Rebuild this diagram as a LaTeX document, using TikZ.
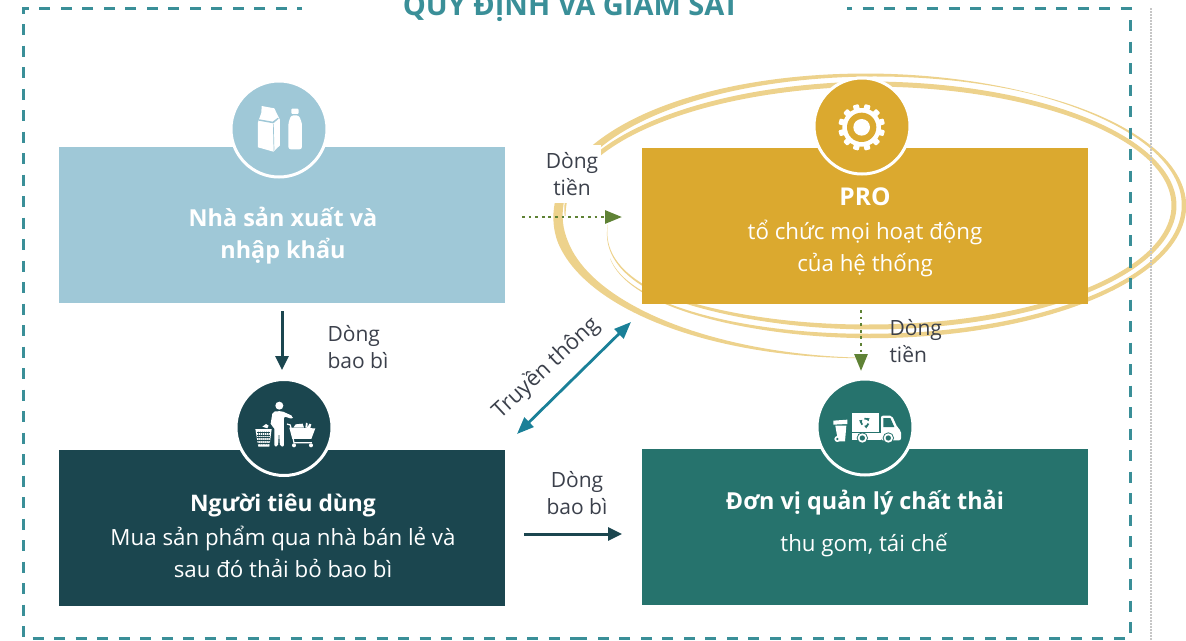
\documentclass[tikz,border=0pt]{standalone}
\usepackage{fontspec}
\usepackage{color}
\setmainfont{Open Sans}
\usetikzlibrary{arrows.meta}
\definecolor{framecol}{HTML}{3A8F98}
\definecolor{makercol}{HTML}{9FC8D7}
\definecolor{procol}{HTML}{DBA92F}
\definecolor{usercol}{HTML}{1B464F}
\definecolor{wastecol}{HTML}{26736D}
\definecolor{ringcol}{HTML}{EDD28C}
\definecolor{moneycol}{HTML}{5F8235}
\definecolor{mediacol}{HTML}{1A8098}
\definecolor{inkcol}{HTML}{3B404B}
\tikzset{
  box/.style={rectangle,inner sep=0pt,minimum width=446pt,minimum height=156pt},
  badge/.style={circle,draw=white,line width=3pt,inner sep=0pt,minimum size=96pt},
  boxtext/.style={text=white,align=center,font=\fontsize{22.3}{32}\selectfont},
  flowtext/.style={text=inkcol,font=\fontsize{21}{27}\selectfont},
  packflow/.style={draw=usercol,line width=3pt,-{Triangle[length=14pt,width=13pt]}},
  moneyflow/.style={draw=moneycol,line width=2.8pt,dash pattern=on 2.8pt off 3.8pt,-{Triangle[length=17pt,width=13pt]}},
  ringpart/.style={fill=ringcol,draw=none},
  frameline/.style={draw=framecol,line width=3pt,dash pattern=on 11pt off 10.5pt,dash phase=6pt}
}
\begin{document}
\begin{tikzpicture}[x=1pt,y=-1pt,
  declare function={
    wouter(\t)=(\t<170)?(0.3+(\t-90)*0.121):((\t<270)?(10-(\t-170)*0.07):((\t<300)?(3-(\t-270)*0.08):((\t<360)?(0.6+(\t-300)*0.065):((\t<450)?4.5:(4.5-(\t-450)*0.065)))));
    aouter(\t)=(\t<270)?(311.5+max(0,\t-180)/30):((\t<470)?314.5:(314.5-0.0145*(\t-470)*(\t-470)));
    bouter(\t)=(\t<180)?141:((\t<270)?(141-(\t-180)*0.1167):130.5);
    couter(\t)=(\t<180)?217:((\t<270)?(217-(\t-180)*0.1278):205.5);
    xouter(\t,\s)=869.5+(aouter(\t)+\s*wouter(\t)/2)*cos(\t);
    youter(\t,\s)=couter(\t)+(bouter(\t)+\s*wouter(\t)/2)*sin(\t);
    winner(\t)=(\t<200)?(1+(\t-178)*0.18):((\t<450)?5:(5-(\t-450)*0.06));
    ainner(\t)=304.5-max(0,\t-495)*1.1;
    cinner(\t)=205.5+max(0,270-\t)/15;
    xinner(\t,\s)=869.5+(ainner(\t)+\s*winner(\t)/2)*cos(\t);
    yinner(\t,\s)=cinner(\t)+(121.5+\s*winner(\t)/2)*sin(\t);
  }]
\useasboundingbox (0,0) rectangle (1186,640);

% rings round the PRO box
\fill[ringpart] plot[domain=90:516,samples=220,variable=\t] ({xouter(\t,1)},{youter(\t,1)})
  -- plot[domain=516:90,samples=220,variable=\t] ({xouter(\t,-1)},{youter(\t,-1)}) -- cycle;
\fill[ringpart] plot[domain=178:531,samples=200,variable=\t] ({xinner(\t,1)},{yinner(\t,1)})
  -- plot[domain=531:178,samples=200,variable=\t] ({xinner(\t,-1)},{yinner(\t,-1)}) -- cycle;

% frame
\draw[frameline] (302,8) -- (23,8) -- (23,638) -- (577,638);
\draw[frameline] (847,8) -- (1130,8) -- (1130,638) -- (577,638);
\draw[gray!45,line width=1.5pt,dash pattern=on 1.5pt off 1.5pt] (1151,8) -- (1151,640);
\node[text=framecol,anchor=base,font=\fontsize{29}{32}\selectfont\bfseries] (title) at (571,15) {QUY ĐỊNH VÀ GIÁM SÁT};

% boxes
\node[box,fill=makercol] (maker) at (282,225) {};
\node[box,fill=procol] (pro) at (865,226) {};
\node[box,fill=usercol] (user) at (282,528) {};
\node[box,fill=wastecol] (waste) at (865,527) {};
\node[badge,fill=makercol] (makerbadge) at (279,129) {};
\node[badge,fill=procol] (probadge) at (862,126) {};
\node[badge,fill=usercol] (userbadge) at (284,427.5) {};
\node[badge,fill=wastecol] (wastebadge) at (865,427) {};

\node[boxtext,font=\fontsize{23.4}{32}\selectfont\bfseries] (makertext) at (283,236) {Nhà sản xuất và\\nhập khẩu};
\node[boxtext] (protext) at (865,232) {{\fontsize{24.5}{32}\selectfont\bfseries PRO}\\[2pt]tổ chức mọi hoạt động\\của hệ thống};
\node[boxtext] (usertext) at (283,536) {{\fontsize{22.8}{32}\selectfont\bfseries Người tiêu dùng}\\[2pt]Mua sản phẩm qua nhà bán lẻ và\\sau đó thải bỏ bao bì};
\node[boxtext,font=\fontsize{23.4}{32}\selectfont\bfseries] (wastetitle) at (865,503) {Đơn vị quản lý chất thải};
\node[boxtext] (wastetext) at (864,545) {thu gom, tái chế};

% flows
\coordinate (a1) at (282,311);
\coordinate (a2) at (282,370);
\coordinate (b1) at (524,534);
\coordinate (b2) at (622,534);
\coordinate (c1) at (522,217);
\coordinate (c2) at (622,217);
\coordinate (d1) at (861,310);
\coordinate (d2) at (861,371);
\coordinate (e1) at (517,434);
\coordinate (e2) at (631,322);
\node[flowtext,fill=white,align=center,inner sep=0pt,minimum width=58pt,minimum height=58pt] (moneyin) at (572,174) {Dòng\\tiền};
\draw[packflow] (a1) -- (a2);
\draw[packflow] (b1) -- (b2);
\draw[moneyflow] (c1) -- (c2);
\draw[moneyflow] (d1) -- (d2);
\draw[draw=mediacol,line width=2.8pt,{Triangle[length=17pt,width=13pt]}-{Triangle[length=17pt,width=13pt]}] (e1) -- (e2);
\node[flowtext,align=left,anchor=west] (packdown) at (324,347) {Dòng\\bao bì};
\node[flowtext,align=left,anchor=west] (moneydown) at (886,341) {Dòng\\tiền};
\node[flowtext,align=center] (packright) at (577,493) {Dòng\\bao bì};
\node[flowtext,rotate=43,font=\fontsize{22}{27}\selectfont] (media) at (546,368) {Truyền thông};

% carton and bottle
\begin{scope}[shift={(220,70)},x=0.3333pt,y=-0.3333pt]
\fill[white] (114,157) -- (124,128) -- (125,108) -- (163,115) -- (180,150) -- (180,226) -- (160,245) -- (114,232) -- cycle;
\fill[makercol] (116,152) -- (160,160) -- (176,146) -- (174,143) -- (158,155) -- (118,148) -- cycle;
\fill[makercol] (161,162) -- (163,238) -- (161,243) -- (159,162) -- cycle;
\fill[white,rounded corners=1pt] (214,116) rectangle (236,132);
\fill[white,rounded corners=2.5pt] (205,238) -- (205,160) -- (213,136) -- (237,136) -- (246,160) -- (246,238) -- cycle;
\end{scope}

% gear
\begin{scope}[shift={(810,70)},x=0.3333pt,y=-0.3333pt]
\foreach \a in {15,45,...,345}
  \fill[white,rotate around={\a:(155,172)},rounded corners=1pt] (146,102) rectangle (164,125);
\fill[white] (155,172) circle (58);
\fill[procol] (155,172) circle (44);
\fill[white] (155,172) circle (25);
\end{scope}

% person, basket and cart
\begin{scope}[shift={(230,375)},x=0.3333pt,y=-0.3333pt]
\fill[white] (148,92) circle (12);
\fill[white,rounded corners=2pt] (128,110) -- (155,108) -- (190,124) -- (187,132) -- (162,124) -- (162,215) -- (150,215) -- (147,168) -- (144,215) -- (133,215) -- (133,155) -- (121,152) -- cycle;
\fill[white] (76,162) -- (125,162) -- (118,215) -- (85,215) -- cycle;
\fill[white] (97,155) -- (108,147) -- (116,152) -- (112,160) -- cycle;
\foreach \x in {86,92,98,104,110,116}
  \draw[usercol,line width=0.5pt] (\x,170) -- (\x-1+0.02*\x,210);
\foreach \y in {172,180,188,196,204}
  \draw[usercol,line width=0.5pt] (82,\y) -- (120,\y);
\draw[white,line width=1.2pt] (171,147) -- (181,150) -- (192,203) -- (246,203);
\fill[white] (178,158) -- (256,160) -- (244,192) -- (187,192) -- cycle;
\fill[white] (190,158) -- (197,148) -- (218,146) -- (222,158) -- cycle;
\fill[white] (226,158) -- (228,143) -- (233,145) -- (232,158) -- (238,146) -- (244,148) -- (241,159) -- cycle;
\fill[white] (192,211) circle (6);
\fill[white] (243,211) circle (6);
\end{scope}

% bin and truck
\begin{scope}[shift={(810,375)},x=0.3333pt,y=-0.3333pt]
\fill[white] (70,137) -- (112,134) -- (112,147) -- (70,149) -- cycle;
\fill[white] (76,152) -- (109,152) -- (105,199) -- (84,199) -- cycle;
\fill[white] (82,192) circle (9);
\fill[wastecol] (82,192) circle (4);
\fill[white] (127,113) rectangle (207,171);
\fill[white] (127,175) rectangle (213,196);
\fill[white,rounded corners=2pt] (213,122) -- (246,122) -- (262,157) -- (273,167) -- (273,196) -- (213,196) -- cycle;
\fill[wastecol] (220,129) -- (241,129) -- (253,156) -- (220,156) -- cycle;
\foreach \a in {20,140,260}
  \draw[wastecol,line width=1.7pt,-{Latex[length=3pt,width=4pt]}] (165,142) ++(\a:11) arc (\a:\a+85:11);
\foreach \x in {157,235} {
  \fill[wastecol] (\x,189) circle (17);
  \fill[white] (\x,189) circle (14);
  \fill[wastecol] (\x,189) circle (8);
}
\end{scope}
\end{tikzpicture}
\end{document}
